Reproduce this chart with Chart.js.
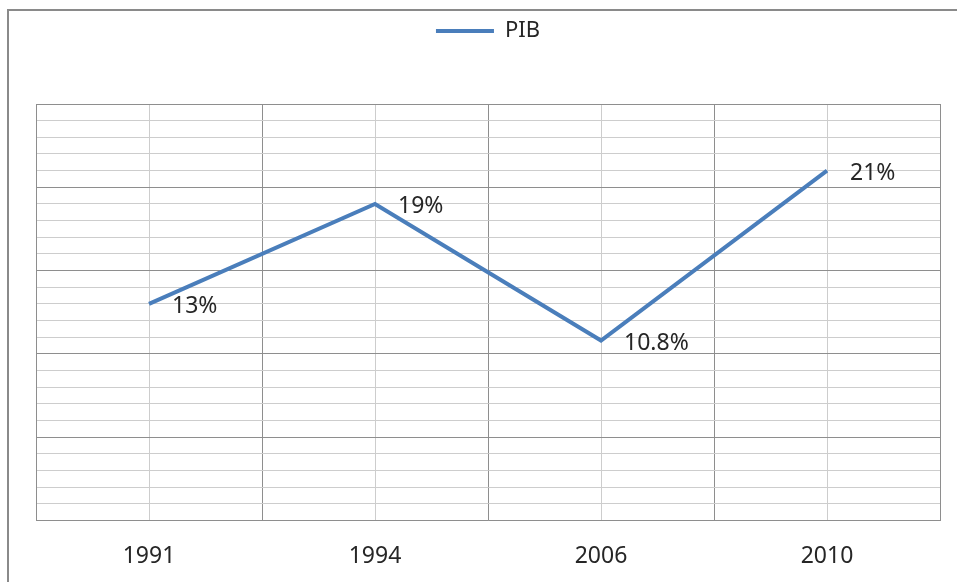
<!DOCTYPE html>
<html>
<head>
<meta charset="utf-8">
<script src="https://cdn.jsdelivr.net/npm/chart.js@4"></script>
<style>
  body { margin: 0; background: #fff; }
  #frame { position: absolute; left: 7px; top: 9px; width: 1000px; height: 1000px;
           border-left: 2px solid #8a8a8a; border-top: 2px solid #8a8a8a; }
  #wrap { position: absolute; left: 0; top: 0; width: 957px; height: 582px; }
</style>
</head>
<body>
<div id="frame"></div>
<div id="wrap"><canvas id="myChart"></canvas></div>
<script>
let year_labels = ['1991', '1994', '2006', '2010'];
let pib_values = [13, 19, 10.8, 21];
let pib_text = ['13%', '19%', '10.8%', '21%'];

const majorGrid = '#8e8e8e';
const minorGrid = '#cdcdcd';

// draws the value labels next to each point
const valueLabels = {
    id: 'valueLabels',
    afterDatasetsDraw(chart) {
        const ctx = chart.ctx;
        const meta = chart.getDatasetMeta(0);
        ctx.save();
        ctx.font = '23px "Noto Sans"';
        ctx.fillStyle = '#262626';
        ctx.textAlign = 'left';
        ctx.textBaseline = 'middle';
        meta.data.forEach(function (pt, i) {
            ctx.fillText(pib_text[i], pt.x + 23, pt.y + 3);
        });
        ctx.restore();
    }
};

// more room between legend and plot
const legendGap = {
    id: 'legendGap',
    beforeInit(chart) {
        const origFit = chart.legend.fit;
        chart.legend.fit = function () {
            origFit.bind(chart.legend)();
            this.height += 52;
        };
    }
};

const ctx = document.getElementById('myChart').getContext('2d');
const myChart = new Chart(ctx, {
    type: 'line',
    data: {
        labels: year_labels,
        datasets: [{
            label: 'PIB',
            data: pib_values,
            fill: false,
            backgroundColor: '#4a7ebb',
            borderColor: '#4a7ebb',
            borderWidth: 4,
            pointRadius: 0,
            pointStyle: 'line',
            lineTension: 0
        }]
    },
    options: {
        responsive: true,
        maintainAspectRatio: false,
        animation: false,
        layout: { padding: { left: 36, right: 17, top: 0, bottom: -10 } },
        plugins: {
            tooltip: { enabled: false },
            legend: {
                position: 'top',
                labels: {
                    usePointStyle: true,
                    pointStyle: 'line',
                    pointStyleWidth: 58,
                    boxHeight: 22,
                    color: '#262626',
                    font: { family: 'Noto Sans', size: 22 },
                    padding: 20
                }
            }
        },
        scales: {
            x: {
                offset: true,
                grid: { offset: true, color: majorGrid, drawTicks: false },
                border: { color: majorGrid },
                ticks: {
                    color: '#262626',
                    font: { family: 'Noto Sans', size: 23 },
                    padding: 22
                }
            },
            x2: {
                type: 'category',
                labels: year_labels,
                position: 'top',
                offset: true,
                grid: { offset: false, color: minorGrid, drawTicks: false },
                border: { display: false },
                ticks: { display: false }
            },
            y: {
                min: 0,
                max: 25,
                ticks: { display: false, stepSize: 1 },
                grid: {
                    drawTicks: false,
                    color: function (c) {
                        return c.tick && c.tick.value % 5 === 0 ? majorGrid : minorGrid;
                    }
                },
                border: { color: majorGrid }
            }
        }
    },
    plugins: [valueLabels, legendGap]
});
</script>
</body>
</html>
